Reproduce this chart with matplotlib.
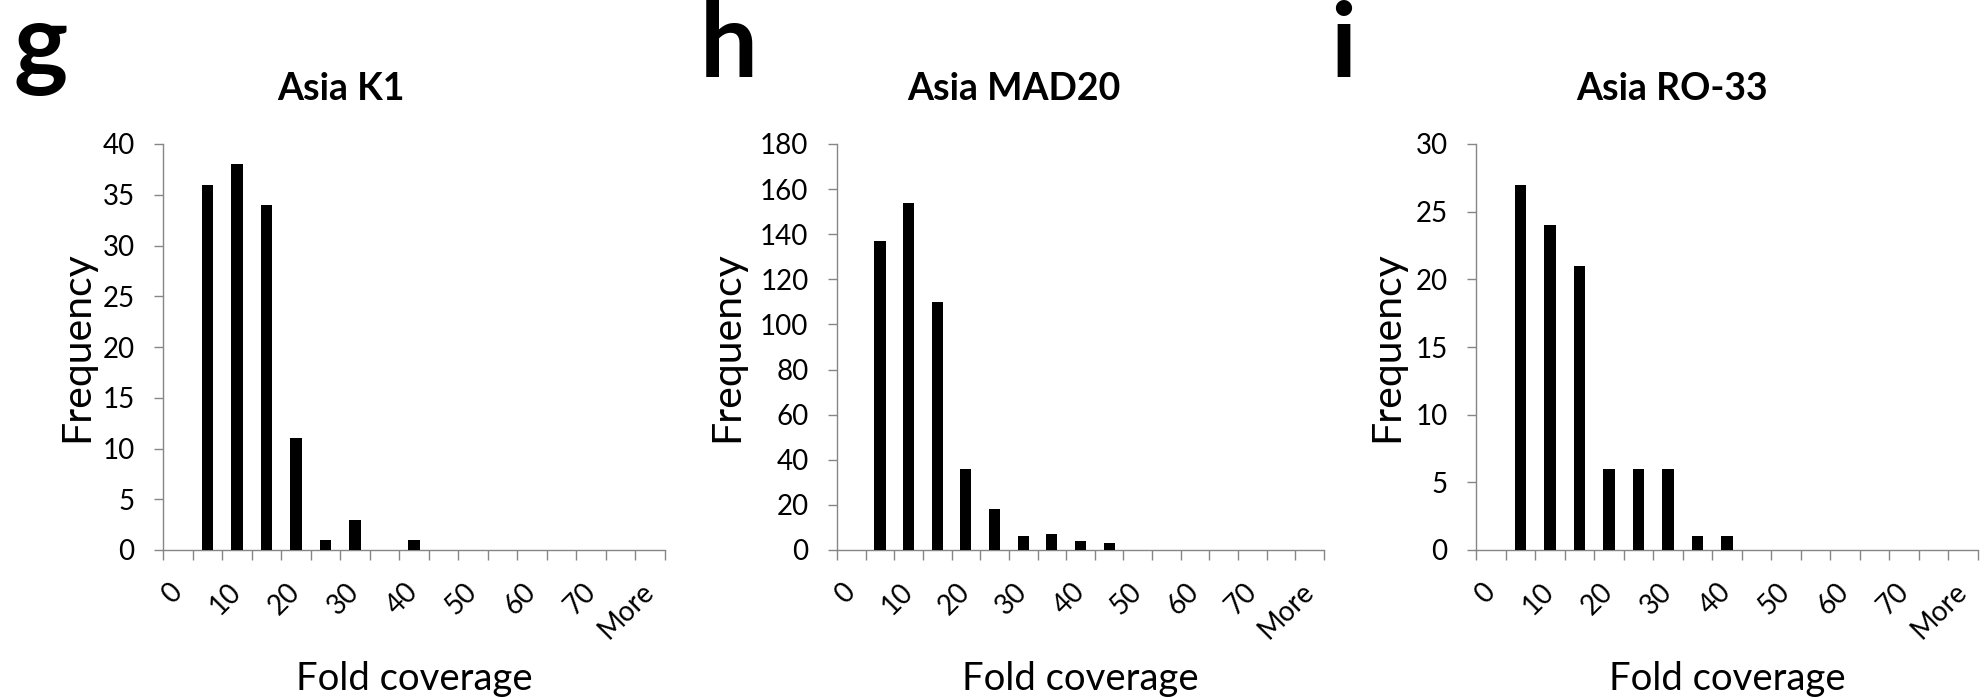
import numpy as np
import matplotlib
matplotlib.use('Agg')
import matplotlib.pyplot as plt

plt.rcParams['font.family'] = ['Lato', 'DejaVu Sans']

# ============================================================
# DATA (Excel histogram, bin width 5)
# ============================================================
bins = ['0', '5', '10', '15', '20', '25', '30', '35', '40', '45',
        '50', '55', '60', '65', '70', '75', 'More']
shown_labels = ['0', '10', '20', '30', '40', '50', '60', '70', 'More']

titles = ['Asia K1', 'Asia MAD20', 'Asia RO-33']
panel_letters = ['g', 'h', 'i']

freq_k1 = [0, 36, 38, 34, 11, 1, 3, 0, 1, 0, 0, 0, 0, 0, 0, 0, 0]
freq_mad20 = [0, 137, 154, 110, 36, 18, 6, 7, 4, 3, 0, 0, 0, 0, 0, 0, 0]
freq_ro33 = [0, 27, 24, 21, 6, 6, 6, 1, 1, 0, 0, 0, 0, 0, 0, 0, 0]

y_max = [40, 180, 30]
y_step = [5, 20, 5]

# ============================================================
# LAYOUT (pixel positions in a 1986 x 698 figure)
# ============================================================
W, H = 1986, 698
axes_px = [(163, 665), (837, 1324), (1476, 1978)]   # left, right of each plot
top_px, base_px = 144, 550
title_x = [341, 1014, 1672]
letter_x = [13, 700, 1330]
ylabel_x = [77, 727, 1387]
AXIS_GREY = '#868686'

fig = plt.figure(figsize=(W / 100, H / 100), dpi=100)

series = [freq_k1, freq_mad20, freq_ro33]
for k, data in enumerate(series):
    left, right = axes_px[k]
    ax = fig.add_axes([left / W, (H - base_px) / H,
                       (right - left) / W, (base_px - top_px) / H])

    x = np.arange(len(bins)) + 0.5
    ax.bar(x, data, width=0.39, color='black', zorder=3)

    ax.set_xlim(0, len(bins))
    ax.set_ylim(0, y_max[k])
    ax.set_yticks(np.arange(0, y_max[k] + 1, y_step[k]))

    # tick marks at category boundaries, labels on every other category
    ax.set_xticks(np.arange(len(bins) + 1))
    ax.set_xticklabels([])
    ax.set_xticks(x[::2], minor=True)
    ax.set_xticklabels(shown_labels, minor=True, rotation=45,
                       ha='right', va='center', rotation_mode='anchor')

    for side in ['top', 'right']:
        ax.spines[side].set_visible(False)
    for side in ['left', 'bottom']:
        ax.spines[side].set_color(AXIS_GREY)
        ax.spines[side].set_linewidth(1.0)

    ax.tick_params(axis='x', which='major', length=7, width=1.0,
                   color=AXIS_GREY, direction='out')
    ax.tick_params(axis='x', which='minor', length=0, pad=27, labelsize=20)
    ax.tick_params(axis='y', length=6.5, width=1.0, color=AXIS_GREY,
                   direction='out', pad=14, labelsize=20)

    ax.set_ylabel('Frequency', fontsize=29.5, va='center')
    ax.yaxis.set_label_coords((ylabel_x[k] - left) / (right - left), 0.5)
    ax.set_xlabel('Fold coverage', fontsize=27.5, va='baseline')
    ax.xaxis.set_label_coords(0.5, (base_px - 690) / (base_px - top_px))

    fig.text(title_x[k] / W, (H - 100) / H, titles[k], fontsize=27,
             fontweight='bold', ha='center', va='baseline')
    fig.text(letter_x[k] / W, (H - 77) / H, panel_letters[k], fontsize=74,
             fontweight='bold', ha='left', va='baseline')

fig.savefig('out.png', dpi=100)
